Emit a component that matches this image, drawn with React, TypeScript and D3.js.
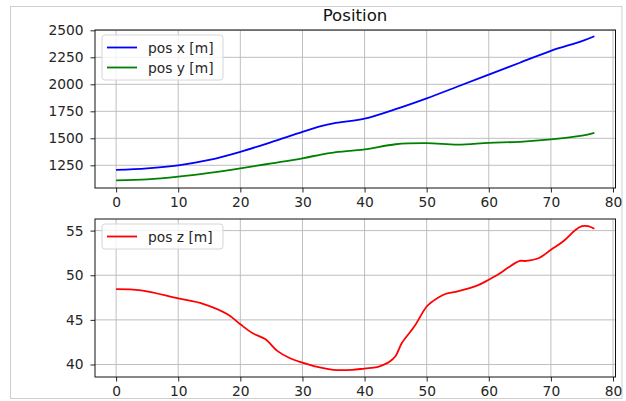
import React, { useEffect, useRef } from 'react';
import * as d3 from 'd3';

// top panel: x / y position over time
const timesXY = [0, 5, 10, 15, 20, 25, 30, 33, 35, 40, 45, 50, 55, 60, 65, 70, 75, 77];
const posX = [1208, 1222, 1250, 1300, 1375, 1465, 1560, 1612, 1638, 1682, 1770, 1870, 1980, 2090, 2200, 2310, 2400, 2445];
const posY = [1111, 1120, 1145, 1180, 1222, 1268, 1315, 1350, 1368, 1398, 1445, 1455, 1442, 1458, 1468, 1490, 1525, 1551];

// bottom panel: z position
const timesZ = [0, 4, 10, 14, 18, 20, 22, 24, 26, 28, 30, 32, 35, 38, 40, 42, 43, 44, 45, 46, 48, 50, 51, 53, 55, 58, 60, 62, 63, 65, 66, 68, 70, 72, 74, 75, 76, 77];
const posZ = [48.44, 48.3, 47.4, 46.8, 45.6, 44.5, 43.5, 42.85, 41.5, 40.7, 40.2, 39.8, 39.4, 39.4, 39.55, 39.7, 39.95, 40.3, 40.95, 42.4, 44.25, 46.5, 47.1, 47.9, 48.2, 48.8, 49.5, 50.3, 50.8, 51.6, 51.6, 51.9, 52.85, 53.8, 55.1, 55.5, 55.5, 55.2];

const xTicks = [0, 10, 20, 30, 40, 50, 60, 70, 80];
const topTicks = [1250, 1500, 1750, 2000, 2250, 2500];
const bottomTicks = [40, 45, 50, 55];

const W = 626;
const H = 401;
const FONT = 'DejaVu Sans, sans-serif';
const FS = 13.8;

const App = () => {
  const svgRef = useRef<SVGSVGElement>(null);

  useEffect(() => {
    const svg = d3.select(svgRef.current);
    svg.selectAll('*').remove();

    svg.append('rect')
      .attr('x', 10.5).attr('y', 6.5)
      .attr('width', 611.5).attr('height', 392)
      .attr('fill', 'white').attr('stroke', '#cfcfcf');

    const left = 95, right = 615.5;

    const panel = (top: number, bottom: number, yDomain: [number, number], yTicks: number[],
                   series: { t: number[]; v: number[]; color: string; label: string }[]) => {
      const x = d3.scaleLinear().domain([-3.4, 80.4]).range([left, right]);
      const y = d3.scaleLinear().domain(yDomain).range([bottom, top]);
      const g = svg.append('g');

      // grid
      g.selectAll('.vgrid').data(xTicks).join('line')
        .attr('x1', d => x(d)).attr('x2', d => x(d))
        .attr('y1', top).attr('y2', bottom)
        .attr('stroke', '#b8b8b8').attr('stroke-width', 0.9);
      g.selectAll('.hgrid').data(yTicks).join('line')
        .attr('x1', left).attr('x2', right)
        .attr('y1', d => y(d)).attr('y2', d => y(d))
        .attr('stroke', '#b8b8b8').attr('stroke-width', 0.9);

      series.forEach(s => {
        const pts: [number, number][] = s.t.map((t, i) => [x(t), y(s.v[i])]);
        g.append('path')
          .attr('d', d3.line().curve(d3.curveCatmullRom.alpha(0.5))(pts))
          .attr('fill', 'none')
          .attr('stroke', s.color)
          .attr('stroke-width', 1.8);
      });

      // axes
      const xAxis = d3.axisBottom(x).tickValues(xTicks).tickSize(4.5).tickPadding(5).tickFormat(d3.format('d'));
      const yAxis = d3.axisLeft(y).tickValues(yTicks).tickSize(4.5).tickPadding(7).tickFormat(d3.format('d'));
      const xa = g.append('g').attr('transform', `translate(0,${bottom})`).call(xAxis);
      const ya = g.append('g').attr('transform', `translate(${left},0)`).call(yAxis);
      [xa, ya].forEach(a => {
        a.select('.domain').remove();
        a.selectAll('text').attr('font-family', FONT).attr('font-size', FS).attr('fill', '#262626');
        a.selectAll('line').attr('stroke', '#262626');
      });

      g.append('rect')
        .attr('x', left).attr('y', top)
        .attr('width', right - left).attr('height', bottom - top)
        .attr('fill', 'none').attr('stroke', '#111').attr('stroke-width', 1);

      // legend
      const lg = g.append('g');
      const lh = 9 + series.length * 20;
      lg.append('rect')
        .attr('x', 102).attr('y', top + 5)
        .attr('width', 121).attr('height', lh - 4)
        .attr('rx', 3)
        .attr('fill', 'white').attr('fill-opacity', 0.8)
        .attr('stroke', '#d6d6d6');
      series.forEach((s, i) => {
        const cy = top + 17.5 + i * 20;
        lg.append('line')
          .attr('x1', 107).attr('x2', 137)
          .attr('y1', cy).attr('y2', cy)
          .attr('stroke', s.color).attr('stroke-width', 1.8);
        lg.append('text')
          .attr('x', 148).attr('y', cy + 5)
          .attr('font-family', FONT).attr('font-size', FS).attr('fill', '#262626')
          .text(s.label);
      });
    };

    panel(30, 188, [1040, 2503], topTicks, [
      { t: timesXY, v: posX, color: '#0000ff', label: 'pos x [m]' },
      { t: timesXY, v: posY, color: '#008000', label: 'pos y [m]' },
    ]);
    panel(219, 377, [38.6, 56.3], bottomTicks, [
      { t: timesZ, v: posZ, color: '#ff0000', label: 'pos z [m]' },
    ]);

    svg.append('text')
      .attr('x', 355).attr('y', 21)
      .attr('text-anchor', 'middle')
      .attr('font-family', FONT).attr('font-size', 16.6).attr('fill', '#111')
      .text('Position');
  }, []);

  return (
    <svg ref={svgRef} width={W} height={H}
      style={{ position: 'absolute', left: 0, top: 0, background: 'white' }} />
  );
};

export default App;
